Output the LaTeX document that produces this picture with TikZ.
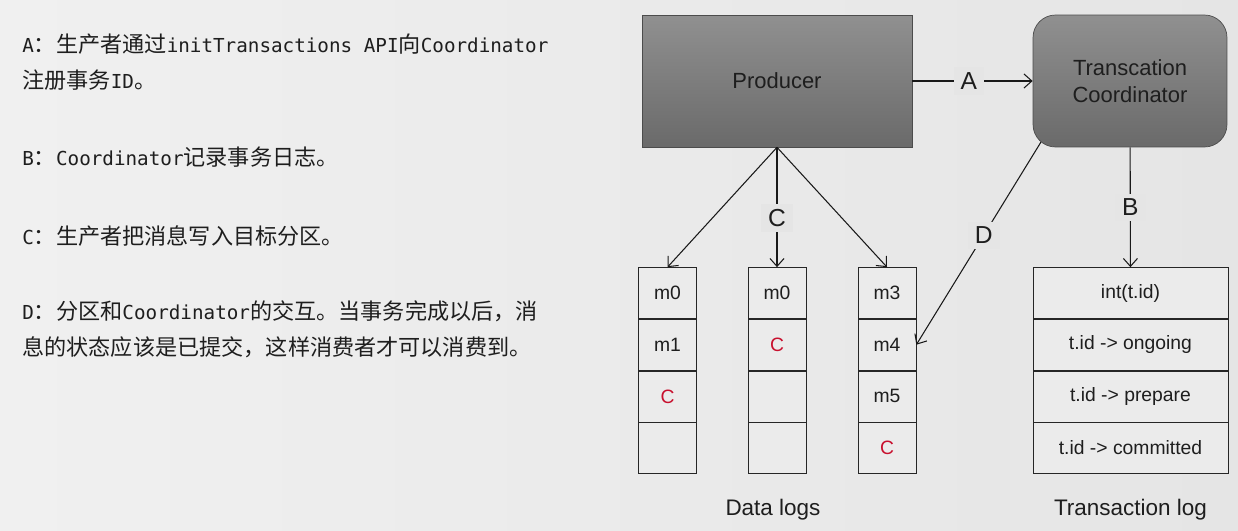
\documentclass[tikz,border=0pt]{standalone}
\usepackage{fontspec}
\setmainfont{Liberation Sans}
\newfontfamily\cjk{Noto Sans CJK SC}
\newfontfamily\mono[Scale=0.87]{DejaVu Sans Mono}
\usetikzlibrary{arrows.meta,positioning}
\definecolor{bgleft}{HTML}{F0F0F0}
\definecolor{bgright}{HTML}{E5E5E5}
\definecolor{cellgray}{HTML}{EBEBEB}
\definecolor{boxtop}{HTML}{909090}
\definecolor{boxbot}{HTML}{6A6A6A}
\definecolor{txtdark}{HTML}{1E1E1E}
\definecolor{cred}{HTML}{C8102E}

\begin{document}
\begin{tikzpicture}[x=0.02cm, y=-0.02cm,
  note/.style={anchor=west,inner sep=0,text=txtdark,font=\cjk\fontsize{12.6}{15}\selectfont},
  bigbox/.style={draw=black!70,top color=boxtop,bottom color=boxbot,minimum height=2.64cm,align=center,text=txtdark,font=\fontsize{12.5}{15.3}\selectfont},
  cell/.style={draw=black!85,fill=cellgray,minimum width=1.16cm,minimum height=1.02cm,inner sep=0,text=txtdark,font=\fontsize{11}{13}\selectfont},
  lbl/.style={fill=bgright,inner xsep=4pt,inner ysep=3pt,text=txtdark,font=\fontsize{14}{16}\selectfont},
  arr/.style={-{Straight Barb[length=4.5pt,width=8pt]},black!90,line width=0.6pt}
]
% Background
\fill[left color=bgleft,right color=bgright] (0,0) rectangle (1238,531);
\useasboundingbox (0,0) rectangle (1238,531);

% Notes
\node[note] (na1) at (22,44) {{\mono A}：生产者通过{\mono initTransactions API}向{\mono Coordinator}};
\node[note] (na2) at (22,80) {注册事务{\mono ID}。};
\node[note] (nb) at (22,157) {{\mono B}：{\mono Coordinator}记录事务日志。};
\node[note] (nc) at (22,236) {{\mono C}：生产者把消息写入目标分区。};
\node[note] (nd1) at (22,311) {{\mono D}：分区和{\mono Coordinator}的交互。当事务完成以后，消};
\node[note] (nd2) at (22,347) {息的状态应该是已提交，这样消费者才可以消费到。};

% Producer and coordinator
\node[bigbox,minimum width=5.4cm] (prod) at (777,81) {Producer};
\node[bigbox,minimum width=3.88cm,rounded corners=0.45cm] (coord) at (1130,81) {Transcation\\Coordinator};
\coordinate (dstart) at (1041,142);

% Data logs
\node[cell] (l1a) at (667.5,293) {m0};
\node[cell,below=0pt of l1a] (l1b) {m1};
\node[cell,below=0pt of l1b,text=cred] (l1c) {C};
\node[cell,below=0pt of l1c] (l1d) {};

\node[cell] (l2a) at (777,293) {m0};
\node[cell,below=0pt of l2a,text=cred] (l2b) {C};
\node[cell,below=0pt of l2b] (l2c) {};
\node[cell,below=0pt of l2c] (l2d) {};

\node[cell] (l3a) at (887,293) {m3};
\node[cell,below=0pt of l3a] (l3b) {m4};
\node[cell,below=0pt of l3b] (l3c) {m5};
\node[cell,below=0pt of l3c,text=cred] (l3d) {C};

% Transaction log
\node[cell,minimum width=3.9cm] (t1) at (1130.5,293) {int(t.id)};
\node[cell,minimum width=3.9cm,below=0pt of t1] (t2) {t.id -> ongoing};
\node[cell,minimum width=3.9cm,below=0pt of t2] (t3) {t.id -> prepare};
\node[cell,minimum width=3.9cm,below=0pt of t3] (t4) {t.id -> committed};

\node[text=txtdark,font=\fontsize{12.8}{15}\selectfont] (dlogs) at (773,510) {Data logs};
\node[text=txtdark,font=\fontsize{12.8}{15}\selectfont] (tlogs) at (1130.5,510) {Transaction log};

\draw[arr] (prod) -- node[lbl,pos=0.47] {A} (coord);
\draw[arr] (prod.south) -- (l1a.north);
\draw[arr] (prod.south) -- node[lbl,pos=0.59] {C} (l2a.north);
\draw[arr] (prod.south) -- (l3a.north);
\draw[arr] (dstart) -- node[lbl,pos=0.46] {D} (l3b.east);
\draw[arr] (coord) -- node[lbl,pos=0.5] {B} (t1);
\end{tikzpicture}
\end{document}
